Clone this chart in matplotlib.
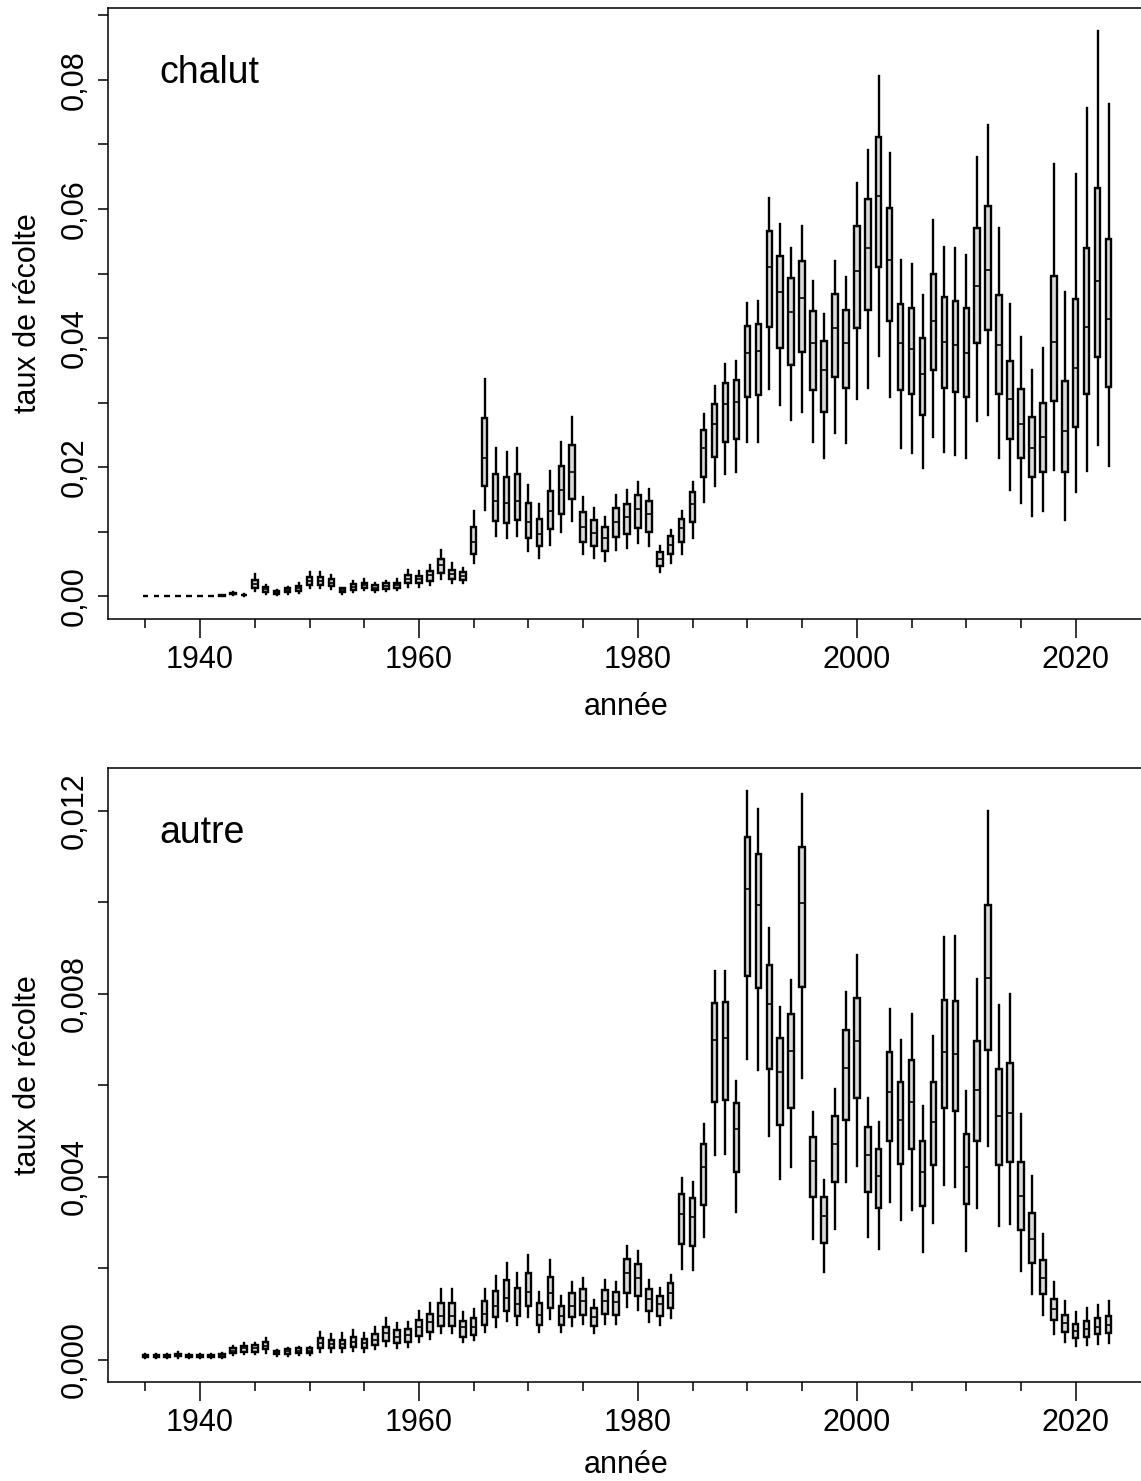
import numpy as np
import matplotlib
matplotlib.use("Agg")
import matplotlib.pyplot as plt
from matplotlib.ticker import FixedLocator, FuncFormatter

plt.rcParams["font.family"] = ["Liberation Sans", "DejaVu Sans"]

years = list(range(1935, 2024))

# chalut : moustache basse, q1, médiane, q3, moustache haute
chalut_lo = [0, 0, 0, 0, 0, 0, 0, 0.00005, 0.0002, 0.0001,
             0.0008, 0.0004, 0.0002, 0.0003, 0.0005, 0.0012, 0.0012, 0.0011, 0.0004, 0.0007,
             0.0009, 0.0006, 0.0008, 0.0009, 0.0014, 0.0014, 0.0017, 0.0027, 0.0020, 0.0020,
             0.0052, 0.0134, 0.0093, 0.0090, 0.0093, 0.0070, 0.0059, 0.0080, 0.0100, 0.0116,
             0.0065, 0.0059, 0.0054, 0.0071, 0.0075, 0.0082, 0.0078, 0.0038, 0.0051, 0.0066,
             0.0090, 0.0146, 0.0170, 0.0189, 0.0192, 0.0239, 0.0239, 0.0321, 0.0296, 0.0273,
             0.0285, 0.0239, 0.0214, 0.0253, 0.0237, 0.0305, 0.0323, 0.0372, 0.0308, 0.0229,
             0.0222, 0.0199, 0.0246, 0.0224, 0.0219, 0.0214, 0.0271, 0.0281, 0.0214, 0.0165,
             0.0144, 0.0125, 0.0132, 0.0196, 0.0118, 0.0162, 0.0194, 0.0234, 0.0202]
chalut_q1 = [0, 0, 0, 0, 0, 0, 0, 0.00008, 0.0003, 0.00015,
             0.0012, 0.0007, 0.0004, 0.0006, 0.0008, 0.0017, 0.0017, 0.0016, 0.0007, 0.0010,
             0.0013, 0.0009, 0.0011, 0.0012, 0.0020, 0.0020, 0.0023, 0.0036, 0.0027, 0.0025,
             0.0066, 0.0171, 0.0116, 0.0114, 0.0118, 0.0090, 0.0077, 0.0104, 0.0128, 0.0150,
             0.0084, 0.0077, 0.0070, 0.0091, 0.0097, 0.0105, 0.0100, 0.0047, 0.0065, 0.0084,
             0.0115, 0.0184, 0.0215, 0.0239, 0.0244, 0.0308, 0.0311, 0.0417, 0.0385, 0.0358,
             0.0378, 0.0320, 0.0286, 0.0340, 0.0322, 0.0415, 0.0444, 0.0510, 0.0427, 0.0319,
             0.0314, 0.0281, 0.0350, 0.0322, 0.0317, 0.0308, 0.0392, 0.0412, 0.0313, 0.0244,
             0.0214, 0.0184, 0.0193, 0.0303, 0.0192, 0.0262, 0.0313, 0.0371, 0.0324]
chalut_med = [0, 0, 0, 0, 0, 0, 0, 0.0001, 0.0004, 0.0002,
              0.0019, 0.0011, 0.0006, 0.0009, 0.0012, 0.0024, 0.0023, 0.0021, 0.0009, 0.0014,
              0.0017, 0.0013, 0.0016, 0.0018, 0.0027, 0.0026, 0.0033, 0.0048, 0.0034, 0.0032,
              0.0084, 0.0214, 0.0147, 0.0144, 0.0148, 0.0115, 0.0097, 0.0132, 0.0165, 0.0193,
              0.0107, 0.0098, 0.0090, 0.0115, 0.0123, 0.0135, 0.0128, 0.0058, 0.0080, 0.0105,
              0.0143, 0.0230, 0.0267, 0.0298, 0.0301, 0.0377, 0.0380, 0.0510, 0.0472, 0.0440,
              0.0462, 0.0392, 0.0350, 0.0415, 0.0392, 0.0504, 0.0539, 0.0620, 0.0521, 0.0392,
              0.0383, 0.0344, 0.0427, 0.0394, 0.0389, 0.0377, 0.0481, 0.0506, 0.0390, 0.0305,
              0.0267, 0.0230, 0.0246, 0.0394, 0.0256, 0.0353, 0.0417, 0.0488, 0.0429]
chalut_q3 = [0, 0, 0, 0, 0, 0, 0, 0.00012, 0.0005, 0.00025,
             0.0025, 0.0014, 0.0008, 0.0012, 0.0016, 0.0030, 0.0029, 0.0026, 0.0012, 0.0019,
             0.0021, 0.0017, 0.0020, 0.0021, 0.0033, 0.0031, 0.0039, 0.0058, 0.0041, 0.0038,
             0.0107, 0.0276, 0.0189, 0.0184, 0.0189, 0.0144, 0.0120, 0.0163, 0.0202, 0.0235,
             0.0130, 0.0118, 0.0107, 0.0137, 0.0143, 0.0157, 0.0148, 0.0068, 0.0093, 0.0120,
             0.0162, 0.0257, 0.0298, 0.0331, 0.0335, 0.0419, 0.0422, 0.0566, 0.0527, 0.0493,
             0.0520, 0.0442, 0.0395, 0.0469, 0.0444, 0.0573, 0.0615, 0.0712, 0.0601, 0.0453,
             0.0446, 0.0400, 0.0500, 0.0463, 0.0458, 0.0447, 0.0571, 0.0604, 0.0467, 0.0365,
             0.0321, 0.0278, 0.0300, 0.0496, 0.0334, 0.0460, 0.0540, 0.0632, 0.0554]
chalut_hi = [0, 0, 0, 0, 0, 0, 0, 0.00015, 0.0006, 0.0003,
             0.0034, 0.0017, 0.0009, 0.0014, 0.0020, 0.0038, 0.0037, 0.0033, 0.0013, 0.0024,
             0.0026, 0.0020, 0.0024, 0.0026, 0.0040, 0.0039, 0.0048, 0.0072, 0.0051, 0.0044,
             0.0132, 0.0337, 0.0229, 0.0224, 0.0230, 0.0173, 0.0143, 0.0194, 0.0239, 0.0278,
             0.0153, 0.0137, 0.0123, 0.0157, 0.0164, 0.0177, 0.0166, 0.0077, 0.0103, 0.0132,
             0.0177, 0.0282, 0.0326, 0.0360, 0.0365, 0.0454, 0.0458, 0.0617, 0.0576, 0.0540,
             0.0573, 0.0489, 0.0437, 0.0520, 0.0494, 0.0640, 0.0692, 0.0806, 0.0687, 0.0521,
             0.0515, 0.0467, 0.0583, 0.0541, 0.0539, 0.0529, 0.0681, 0.0730, 0.0570, 0.0453,
             0.0401, 0.0351, 0.0385, 0.0670, 0.0472, 0.0654, 0.0757, 0.0876, 0.0762]

# autre
autre_lo = [0.00004, 0.00004, 0.00004, 0.00005, 0.00004, 0.00004, 0.00005, 0.00005, 0.00010, 0.00014,
            0.00014, 0.00016, 0.00009, 0.00009, 0.00010, 0.00010, 0.00018, 0.00017, 0.00018, 0.00020,
            0.00018, 0.00023, 0.00030, 0.00027, 0.00028, 0.00039, 0.00045, 0.00058, 0.00059, 0.00040,
            0.00044, 0.00061, 0.00073, 0.00085, 0.00077, 0.00094, 0.00061, 0.00090, 0.00060, 0.00074,
            0.00078, 0.00058, 0.00078, 0.00078, 0.00116, 0.00109, 0.00083, 0.00076, 0.00091, 0.00199,
            0.00197, 0.00269, 0.00447, 0.00449, 0.00323, 0.00658, 0.00633, 0.00489, 0.00395, 0.00421,
            0.00617, 0.00265, 0.00192, 0.00287, 0.00388, 0.00424, 0.00269, 0.00242, 0.00346, 0.00306,
            0.00328, 0.00235, 0.00300, 0.00383, 0.00378, 0.00237, 0.00332, 0.00467, 0.00292, 0.00296,
            0.00195, 0.00144, 0.00098, 0.00057, 0.00040, 0.00030, 0.00032, 0.00035, 0.00036]
autre_q1 = [0.00006, 0.00006, 0.00006, 0.00008, 0.00006, 0.00006, 0.00007, 0.00007, 0.00015, 0.00018,
            0.00018, 0.00023, 0.00012, 0.00014, 0.00015, 0.00015, 0.00027, 0.00025, 0.00026, 0.00028,
            0.00026, 0.00033, 0.00042, 0.00037, 0.00039, 0.00052, 0.00062, 0.00074, 0.00075, 0.00050,
            0.00055, 0.00076, 0.00094, 0.00107, 0.00097, 0.00118, 0.00077, 0.00114, 0.00076, 0.00093,
            0.00098, 0.00074, 0.00100, 0.00098, 0.00147, 0.00140, 0.00106, 0.00096, 0.00114, 0.00254,
            0.00250, 0.00338, 0.00563, 0.00568, 0.00410, 0.00839, 0.00812, 0.00635, 0.00514, 0.00551,
            0.00814, 0.00356, 0.00256, 0.00388, 0.00524, 0.00573, 0.00368, 0.00333, 0.00479, 0.00429,
            0.00462, 0.00336, 0.00427, 0.00551, 0.00545, 0.00341, 0.00478, 0.00677, 0.00427, 0.00432,
            0.00284, 0.00211, 0.00143, 0.00087, 0.00062, 0.00048, 0.00051, 0.00056, 0.00058]
autre_med = [0.00008, 0.00008, 0.00008, 0.00011, 0.00008, 0.00008, 0.00009, 0.00009, 0.00020, 0.00025,
             0.00026, 0.00031, 0.00015, 0.00019, 0.00020, 0.00020, 0.00037, 0.00034, 0.00035, 0.00039,
             0.00036, 0.00044, 0.00058, 0.00051, 0.00055, 0.00072, 0.00082, 0.00096, 0.00096, 0.00071,
             0.00071, 0.00100, 0.00118, 0.00135, 0.00122, 0.00149, 0.00098, 0.00146, 0.00096, 0.00118,
             0.00128, 0.00093, 0.00128, 0.00127, 0.00189, 0.00179, 0.00134, 0.00122, 0.00147, 0.00318,
             0.00313, 0.00421, 0.00699, 0.00703, 0.00505, 0.01029, 0.00994, 0.00777, 0.00629, 0.00675,
             0.00999, 0.00434, 0.00315, 0.00472, 0.00637, 0.00698, 0.00447, 0.00403, 0.00585, 0.00524,
             0.00564, 0.00410, 0.00519, 0.00672, 0.00668, 0.00421, 0.00589, 0.00835, 0.00532, 0.00539,
             0.00358, 0.00265, 0.00180, 0.00111, 0.00081, 0.00063, 0.00068, 0.00073, 0.00077]
autre_q3 = [0.00010, 0.00010, 0.00010, 0.00014, 0.00010, 0.00010, 0.00011, 0.00012, 0.00026, 0.00031,
            0.00032, 0.00040, 0.00019, 0.00023, 0.00025, 0.00025, 0.00047, 0.00044, 0.00044, 0.00050,
            0.00046, 0.00056, 0.00072, 0.00065, 0.00067, 0.00087, 0.00100, 0.00124, 0.00125, 0.00084,
            0.00091, 0.00128, 0.00151, 0.00174, 0.00157, 0.00190, 0.00125, 0.00182, 0.00118, 0.00146,
            0.00155, 0.00113, 0.00152, 0.00149, 0.00220, 0.00209, 0.00155, 0.00140, 0.00167, 0.00363,
            0.00353, 0.00472, 0.00780, 0.00782, 0.00562, 0.01142, 0.01106, 0.00864, 0.00703, 0.00755,
            0.01120, 0.00487, 0.00355, 0.00533, 0.00721, 0.00790, 0.00508, 0.00461, 0.00673, 0.00607,
            0.00656, 0.00478, 0.00608, 0.00787, 0.00785, 0.00494, 0.00696, 0.00994, 0.00635, 0.00648,
            0.00432, 0.00320, 0.00218, 0.00134, 0.00098, 0.00079, 0.00084, 0.00091, 0.00095]
autre_hi = [0.00012, 0.00012, 0.00012, 0.00018, 0.00012, 0.00012, 0.00014, 0.00015, 0.00031, 0.00036,
            0.00038, 0.00047, 0.00021, 0.00027, 0.00028, 0.00028, 0.00061, 0.00056, 0.00058, 0.00065,
            0.00058, 0.00071, 0.00091, 0.00080, 0.00083, 0.00107, 0.00124, 0.00155, 0.00155, 0.00104,
            0.00111, 0.00155, 0.00184, 0.00211, 0.00190, 0.00229, 0.00149, 0.00218, 0.00139, 0.00171,
            0.00180, 0.00130, 0.00175, 0.00171, 0.00249, 0.00237, 0.00174, 0.00157, 0.00185, 0.00398,
            0.00388, 0.00516, 0.00850, 0.00849, 0.00610, 0.01243, 0.01205, 0.00943, 0.00772, 0.00830,
            0.01236, 0.00542, 0.00393, 0.00593, 0.00804, 0.00885, 0.00572, 0.00521, 0.00767, 0.00699,
            0.00756, 0.00555, 0.00708, 0.00925, 0.00926, 0.00587, 0.00832, 0.01200, 0.00776, 0.00799,
            0.00537, 0.00403, 0.00275, 0.00170, 0.00128, 0.00105, 0.00113, 0.00121, 0.00129]


def make_stats(lo, q1, med, q3, hi):
    return [dict(whislo=a, q1=b, med=c, q3=d, whishi=e, fliers=[])
            for a, b, c, d, e in zip(lo, q1, med, q3, hi)]


def draw_panel(ax, stats, name, ylim, ystep, ylab_step, ndec, xpad):
    ax.bxp(stats, positions=years, widths=0.5, patch_artist=True,
           showfliers=False, showcaps=False, manage_ticks=False,
           boxprops=dict(facecolor="#dadada", edgecolor="black", linewidth=1.7),
           medianprops=dict(color="black", linewidth=1.2),
           whiskerprops=dict(color="black", linewidth=1.7, linestyle="-"))

    ax.set_xlim(1931.59, 2026.27)
    ax.set_ylim(*ylim)

    # axe des x : petits traits tous les 5 ans, étiquettes tous les 20 ans
    ax.xaxis.set_major_locator(FixedLocator([1940, 1960, 1980, 2000, 2020]))
    ax.xaxis.set_minor_locator(FixedLocator(list(range(1935, 2021, 5))))
    ax.tick_params(axis="x", which="major", length=14, width=1.1, labelsize=22, pad=5)
    ax.tick_params(axis="x", which="minor", length=6.5, width=1.1)

    yt = np.round(np.arange(0, ylim[1], ystep), 6)
    ax.yaxis.set_major_locator(FixedLocator(yt))
    fmt = "{:." + str(ndec) + "f}"

    def lab(v, pos):
        k = int(round(v / ystep))
        if k % ylab_step:
            return ""
        return fmt.format(v).replace(".", ",")

    ax.yaxis.set_major_formatter(FuncFormatter(lab))
    ax.tick_params(axis="y", which="major", length=7, width=1.1, labelsize=22, pad=6)
    for t in ax.get_yticklabels():
        t.set_rotation(90)
        t.set_va("center")

    for sp in ax.spines.values():
        sp.set_linewidth(1.1)

    ax.set_xlabel("année", fontsize=22, labelpad=xpad)
    ax.set_ylabel("taux de récolte", fontsize=22, labelpad=12)
    ax.text(0.050, 0.894, name, transform=ax.transAxes, fontsize=27,
            ha="left", va="center")


fig = plt.figure(figsize=(11.41, 14.81), dpi=100)
ax1 = fig.add_axes([0.09466, 0.58224, 0.9083, 0.41236])
ax2 = fig.add_axes([0.09466, 0.06712, 0.9083, 0.41411])

draw_panel(ax1, make_stats(chalut_lo, chalut_q1, chalut_med, chalut_q3, chalut_hi),
           "chalut", (-0.00349, 0.09115), 0.01, 2, 2, 12)
draw_panel(ax2, make_stats(autre_lo, autre_q1, autre_med, autre_q3, autre_hi),
           "autre", (-0.000474, 0.01293), 0.002, 2, 3, 9)

fig.savefig("out.png", dpi=100)
